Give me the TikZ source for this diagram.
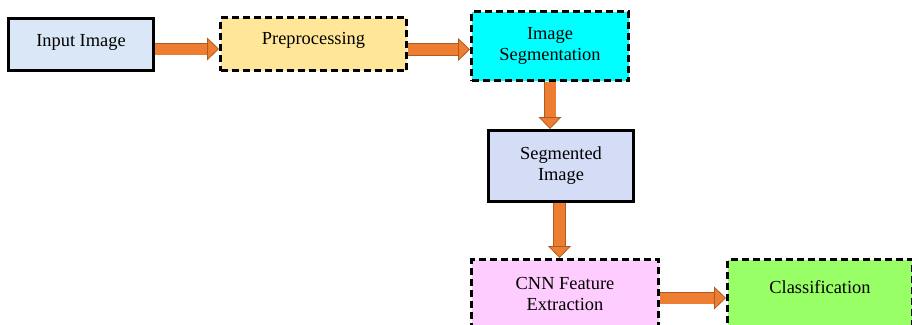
\documentclass[tikz,border=0pt]{standalone}
\usepackage{fontspec}
\setmainfont{Liberation Serif}
\usepackage{xcolor}
\usepackage{tikz}
\usetikzlibrary{positioning,arrows.meta,calc}
\definecolor{inblue}{RGB}{218,231,246}
\definecolor{segblue}{RGB}{212,220,246}
\definecolor{prepyel}{RGB}{255,230,153}
\definecolor{segcyan}{RGB}{0,255,255}
\definecolor{cnnpink}{RGB}{255,204,255}
\definecolor{clsgreen}{RGB}{153,255,102}
\definecolor{arrorange}{RGB}{237,125,49}
\definecolor{arredge}{RGB}{174,90,33}
\tikzset{
  stage/.style={rectangle, draw=black, line width=3pt, anchor=north west, align=center,
                inner sep=2pt, font=\fontsize{18.4}{21}\selectfont},
  solidstage/.style={stage},
  dashstage/.style={stage, dash pattern=on 7pt off 4pt},
  lift/.style={text height=13pt, text depth=#1},
  flow/.style={line width=11pt, draw=arrorange,
               -{Triangle[length=12pt, width=23pt, fill=arrorange, color=arredge, line width=0.8pt]},
               preaction={draw=arredge, line width=12.6pt, arrows=-, shorten >=11pt}}
}
\begin{document}
\begin{tikzpicture}[x=1pt, y=-1pt]
\useasboundingbox (0,0) rectangle (912,324);
% top row
\node[solidstage, lift=9pt, fill=inblue, minimum width=145pt, minimum height=52pt] (inimg) at (7,17) {Input Image};
\node[dashstage, lift=12pt, fill=prepyel, minimum width=186pt, minimum height=53pt] (prep) at (219,16) {Preprocessing};
\node[dashstage, fill=segcyan, minimum width=157pt, minimum height=69pt] (imgseg) at (470,10) {Image\\Segmentation};
% middle
\node[solidstage, fill=segblue, minimum width=145pt, minimum height=71pt] (segimg) at (487,129) {Segmented\\Image};
% bottom row (runs off the page)
\node[dashstage, fill=cnnpink, minimum width=187pt, minimum height=69pt] (cnn) at (470,258) {CNN Feature\\Extraction};
\node[dashstage, lift=15pt, fill=clsgreen, minimum width=185pt, minimum height=69pt] (cls) at (726,258) {Classification};
% connectors
\draw[flow] ([yshift=-4.5pt]inimg.east) -- ([yshift=-4.5pt]inimg.east -| prep.west);
\draw[flow] ([yshift=-5.5pt]prep.east) -- ([yshift=-5.5pt]prep.east -| imgseg.west);
\draw[flow] (imgseg.south) -- (imgseg.south |- segimg.north);
\draw[flow] ([xshift=-1.5pt]segimg.south) -- ([xshift=-1.5pt]segimg.south |- cnn.north);
\draw[flow] ([yshift=-4pt]cnn.east) -- ([yshift=-4pt]cnn.east -| cls.west);
\end{tikzpicture}
\end{document}
